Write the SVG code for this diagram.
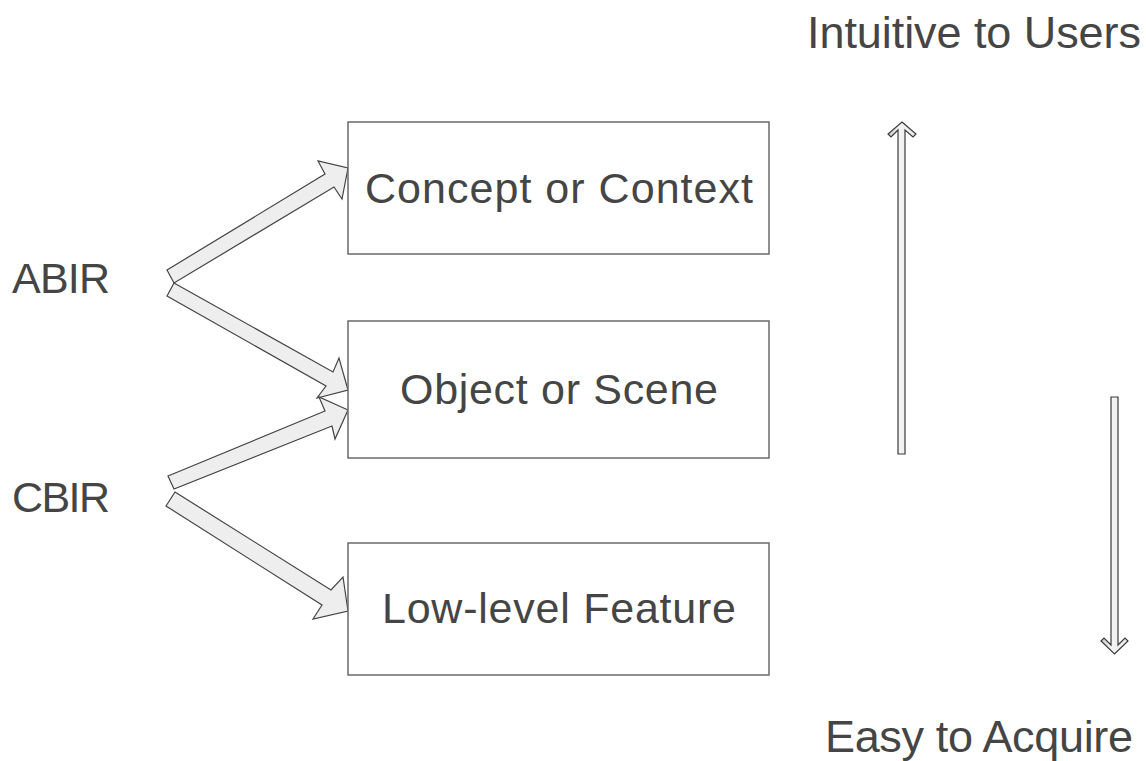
<svg xmlns="http://www.w3.org/2000/svg" width="1146" height="761" viewBox="0 0 1146 761">
  <defs>
    <linearGradient id="shaftShade" x1="0" y1="0" x2="1" y2="0">
      <stop offset="0" stop-color="#c8c8c8"/>
      <stop offset="0.4" stop-color="#f4f4f4"/>
      <stop offset="1" stop-color="#e8e8e8"/>
    </linearGradient>
  </defs>
  <style>
    .box { fill: #ffffff; stroke: #6a6a6a; stroke-width: 1.5; }
    .label { font-family: "Liberation Sans", Arial, sans-serif; font-size: 43px; fill: #454545; }
    .big { font-size: 45px; }
    .block { fill: #eeeeee; stroke: #444444; stroke-width: 1.2; stroke-linejoin: miter; }
    .axis { fill: url(#shaftShade); stroke: #3a3a3a; stroke-width: 1.2; stroke-linejoin: miter; }
  </style>
  <rect width="1146" height="761" fill="#ffffff"/>

  <!-- block arrows from the two retrieval approaches -->
  <g id="connectors">
    <polygon class="block" points="167,270 325,174 318,161 348,168 342,199 334,187 174,283"/>
    <polygon class="block" points="174,283 333,372 339,358 348,390 317,398 326,386 167,296"/>
    <polygon class="block" points="168,476 325,411 319,397 348,410 335,439 332,426 174,489"/>
    <polygon class="block" points="175,492 331,590 343,577 348,611 313,619 322,605 166,506"/>
    <!-- vertical axis arrows -->
    <path class="axis" d="M902,122 L916,134 L913,137 L905,130 L905,454 L898,454 L898,130 L891,137 L888,134 Z"/>
    <path class="axis" d="M1111,397 L1118,397 L1118,645 L1125,638 L1128,641 L1114.5,654 L1101,641 L1104,638 L1111,645 Z"/>
  </g>

  <g id="concept">
    <rect class="box" x="348" y="122" width="421" height="132"/>
    <text class="label" x="365" y="203" textLength="388" lengthAdjust="spacing">Concept or Context</text>
  </g>
  <g id="object">
    <rect class="box" x="348" y="321" width="421" height="137"/>
    <text class="label" x="400" y="404" textLength="318" lengthAdjust="spacing">Object or Scene</text>
  </g>
  <g id="lowlevel">
    <rect class="box" x="348" y="543" width="421" height="132"/>
    <text class="label" x="382" y="623" textLength="354" lengthAdjust="spacing">Low-level Feature</text>
  </g>

  <g id="abir">
    <text class="label" x="12" y="293" textLength="98" lengthAdjust="spacing">ABIR</text>
  </g>
  <g id="cbir">
    <text class="label" x="12" y="512" textLength="98" lengthAdjust="spacing">CBIR</text>
  </g>

  <g id="intuitive">
    <text class="label big" x="807" y="48" textLength="334" lengthAdjust="spacing">Intuitive to Users</text>
  </g>
  <g id="easy">
    <text class="label big" x="825" y="752" textLength="308" lengthAdjust="spacing">Easy to Acquire</text>
  </g>
</svg>
